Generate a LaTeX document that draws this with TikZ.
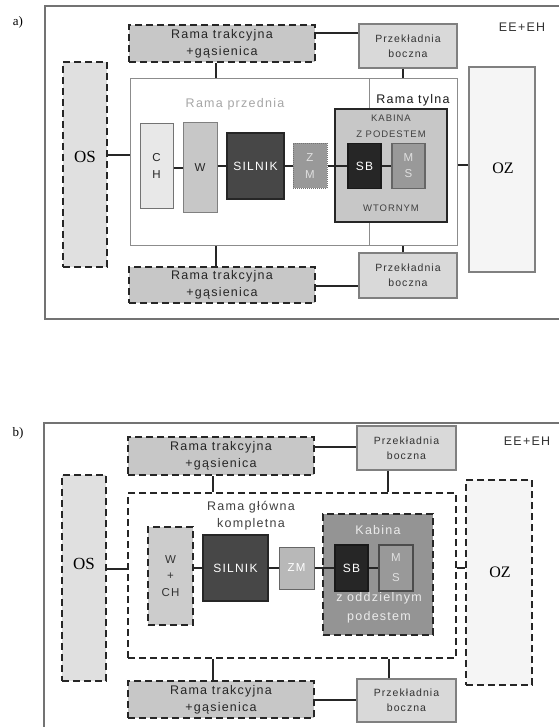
\documentclass[tikz,border=0pt]{standalone}
\usepackage{fontspec}
\setmainfont{Liberation Serif}
\newfontfamily\labfont[LetterSpace=10]{Liberation Sans}

\begin{document}
\begin{tikzpicture}[x=1pt, y=-1pt,
    every node/.style={inner sep=0pt, align=center},
    txt/.style={font=\labfont\fontsize{10.5}{15}\selectfont, text=black!80},
    big/.style={font=\labfont\fontsize{12.5}{17}\selectfont},
    small/.style={font=\labfont\fontsize{9.5}{16}\selectfont},
    serif/.style={font=\fontsize{#1}{#1}\selectfont},
    dashbox/.style={draw=black!85, line width=2.2pt, dash pattern=on 7pt off 4pt},
    plainbox/.style={draw=black!50, line width=1.2pt},
    frame/.style={draw=black!55, line width=1.2pt},
    link/.style={draw=black!85, line width=1.8pt},
    size/.style 2 args={minimum width=#1pt, minimum height=#2pt}]
  \useasboundingbox (0,0) rectangle (558,727);

  % ---------------- a) ----------------
  \node[serif=13] (lblA) at (18,22) {a)};
  \draw[frame] (45,6) rectangle (564,319);
  \node[big, text=black!80] (eeA) at (522,27) {EE+EH};

  \node[draw=black!45, line width=1pt, fill=white, size={327}{166}] (ramaA) at (293.5,162) {};
  \draw[draw=black!45, line width=1pt] (ramaA.north -| 369,0) -- (ramaA.south -| 369,0);
  \node[big, text=black!35] (przTxtA) at (235,104) {Rama przednia};
  \node[big, text=black!90] (tylTxtA) at (413,100) {Rama tylna};

  \node[dashbox, fill=black!22, size={186}{37}, big, text=black!85] (rtA1) at (222,43.5) {Rama trakcyjna\\+gąsienica};
  \node[dashbox, fill=black!22, size={186}{36}, big, text=black!85] (rtA2) at (222,285) {Rama trakcyjna\\+gąsienica};
  \node[plainbox, fill=black!15, size={98}{44}, txt] (pbA1) at (408,46) {Przekładnia\\boczna};
  \node[plainbox, fill=black!15, size={98}{45}, txt] (pbA2) at (408,275.5) {Przekładnia\\boczna};

  \node[dashbox, fill=black!12, size={44}{205}] (osA) at (85,164.5) {};
  \node[serif=17] (osTxtA) at (85,157) {OS};
  \node[plainbox, fill=black!4, size={66}{205}] (ozA) at (502,169.5) {};
  \node[serif=16] (ozTxtA) at (503,168) {OZ};

  \node[draw=black!85, line width=2.4pt, fill=black!22, size={112}{113}] (kabA) at (391,165.5) {};
  \node[small, text=black!75] (kabTxtA) at (391,126) {KABINA\\Z PODESTEM};
  \node[small, text=black!75] (wtoTxtA) at (391,208) {WTORNYM};

  \node[draw=black!55, line width=1pt, fill=black!9, size={33}{85}, font=\labfont\fontsize{11.5}{17}\selectfont, text=black!85] (chA) at (156.5,166) {C\\H};
  \node[draw=black!50, line width=1pt, fill=black!22, size={34}{90}, font=\labfont\fontsize{11.5}{17}\selectfont, text=black!85] (wA) at (200,168) {W};
  \node[draw=black!85, line width=1.8pt, fill=black!72, size={57}{66}, font=\labfont\fontsize{12}{12}\selectfont, text=white] (silA) at (255.5,166) {SILNIK};
  \node[draw=black!55, line width=1pt, densely dotted, fill=black!40, size={34}{45}, font=\labfont\fontsize{11.5}{17}\selectfont, text=black!12] (zmA) at (310,166) {Z\\M};
  \node[draw=black!90, line width=1.4pt, fill=black!85, size={33}{45}, font=\labfont\fontsize{12}{12}\selectfont, text=white] (sbA) at (364.5,166) {SB};
  \node[draw=black!60, line width=1.2pt, fill=black!40, size={33}{45}, font=\labfont\fontsize{11.5}{16}\selectfont, text=black!12] (msA) at (408.5,166) {M\\S};

  \foreach \a/\b in {chA/wA, wA/silA, silA/zmA, zmA/sbA, sbA/msA}
    \draw[link] (\a.east |- \b.west) -- (\b.west);

  \draw[link] (rtA1.east |- 0,33) -- (pbA1.west |- 0,33);
  \draw[link] (rtA2.east |- 0,286) -- (pbA2.west |- 0,286);
  \draw[link] (rtA1.south -| 216,0) -- (ramaA.north -| 216,0);
  \draw[link] (rtA2.north -| 216,0) -- (ramaA.south -| 216,0);
  \draw[link] (pbA1.south -| 403,0) -- (ramaA.north -| 403,0);
  \draw[link] (pbA2.north -| 403,0) -- (ramaA.south -| 403,0);
  \draw[link] (osA.east |- 0,155) -- (ramaA.west |- 0,155);
  \draw[link] (ramaA.east |- 0,165) -- (ozA.west |- 0,165);

  % ---------------- b) ----------------
  \node[serif=13] (lblB) at (18,433) {b)};
  \draw[frame] (44,423) rectangle (564,745);
  \node[big, text=black!80] (eeB) at (527,441) {EE+EH};

  \node[dashbox, fill=white, size={328}{165}] (ramaB) at (292,575.5) {};
  \node[big, text=black!75] (glTxtB) at (251,515.5) {Rama główna\\kompletna};

  \node[dashbox, fill=black!22, size={186}{38}, big, text=black!85] (rtB1) at (221,456) {Rama trakcyjna\\+gąsienica};
  \node[dashbox, fill=black!22, size={186}{37}, big, text=black!85] (rtB2) at (221,699.5) {Rama trakcyjna\\+gąsienica};
  \node[plainbox, fill=black!15, size={99}{44}, txt] (pbB1) at (406.5,448) {Przekładnia\\boczna};
  \node[plainbox, fill=black!15, size={99}{43}, txt] (pbB2) at (406.5,700.5) {Przekładnia\\boczna};

  \node[dashbox, fill=black!12, size={44}{206}] (osB) at (84,578) {};
  \node[serif=17] (osTxtB) at (84,564) {OS};
  \node[dashbox, fill=black!4, size={66}{205}] (ozB) at (499,582.5) {};
  \node[serif=16] (ozTxtB) at (500,572) {OZ};

  \node[dashbox, fill=black!42, size={110}{121}] (kabB) at (378,574.5) {};
  \node[big, text=black!8] (kabTxtB) at (378,530) {Kabina};
  \node[font=\labfont\fontsize{12.5}{19}\selectfont, text=black!8] (podTxtB) at (379,607.5) {z oddzielnym\\podestem};

  \node[dashbox, fill=black!20, size={45}{98}, font=\labfont\fontsize{11.5}{16.5}\selectfont, text=black!80] (wchB) at (170.5,576) {W\\+\\CH};
  \node[draw=black!85, line width=1.8pt, fill=black!72, size={65}{66}, font=\labfont\fontsize{12}{12}\selectfont, text=white] (silB) at (235.5,568) {SILNIK};
  \node[draw=black!60, line width=1pt, fill=black!28, size={35}{42}, font=\labfont\fontsize{11.5}{12}\selectfont, text=white] (zmB) at (296.5,568) {ZM};
  \node[draw=black!90, line width=1.4pt, fill=black!85, size={33}{46}, font=\labfont\fontsize{12}{12}\selectfont, text=white] (sbB) at (351.5,568) {SB};
  \node[draw=black!70, line width=1.2pt, fill=black!40, size={34}{46}, font=\labfont\fontsize{11.5}{20}\selectfont, text=black!12] (msB) at (396,568) {M\\S};

  \foreach \a/\b in {wchB/silB, silB/zmB, zmB/sbB, sbB/msB}
    \draw[link] (\a.east |- \b.west) -- (\b.west);

  \draw[link] (rtB1.east |- 0,447) -- (pbB1.west |- 0,447);
  \draw[link] (rtB2.east |- 0,700) -- (pbB2.west |- 0,700);
  \draw[link] (rtB1.south -| 213,0) -- (ramaB.north -| 213,0);
  \draw[link] (rtB2.north -| 213,0) -- (ramaB.south -| 213,0);
  \draw[link] (pbB1.south -| 388,0) -- (ramaB.north -| 388,0);
  \draw[link] (pbB2.north -| 389,0) -- (ramaB.south -| 389,0);
  \draw[link] (osB.east |- 0,569) -- (ramaB.west |- 0,569);
  \draw[link] (ramaB.east |- 0,568) -- (ozB.west |- 0,568);
\end{tikzpicture}
\end{document}
